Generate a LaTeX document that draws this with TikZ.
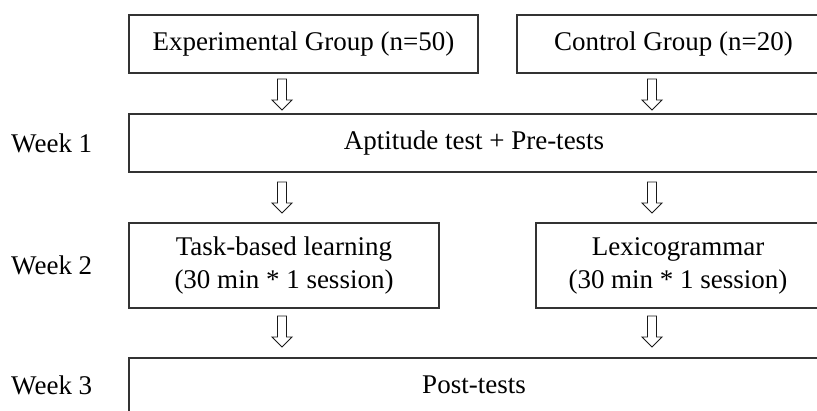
\documentclass[tikz,border=0pt]{standalone}
\usepackage{fontspec}
\setmainfont{Liberation Serif}
\begin{document}
\begin{tikzpicture}[x=1pt,y=-1pt,
  box/.style={draw=black!80, line width=1.4pt, inner sep=0pt, align=center,
    font=\fontsize{27}{33}\selectfont},
  weeklbl/.style={anchor=west, inner sep=0pt, font=\fontsize{27}{33}\selectfont},
  hollow/.pic={\draw[line width=0.9pt, line join=miter, draw=black!90]
    (-4.5,0) -- (4.5,0) -- (4.5,21) -- (10,21) -- (0,31) -- (-10,21) -- (-4.5,21) -- cycle;}]
\useasboundingbox (0,0) rectangle (817,410);
\clip (0,0) rectangle (817,410);
% boxes
\node[box, minimum width=349pt, minimum height=58pt] (exp) at (303.5,44) {Experimental Group (n=50)};
\node[box, minimum width=313pt, minimum height=58pt] (ctl) at (673.5,44) {Control Group (n=20)};
\node[box, minimum width=690pt, minimum height=58pt] (apt) at (474,143) {Aptitude test + Pre-tests};
\node[box, minimum width=310pt, minimum height=85pt] (task) at (284,265.5) {Task-based learning\\(30 min * 1 session)};
\node[box, minimum width=284pt, minimum height=85pt] (lex) at (678,265.5) {Lexicogrammar\\(30 min * 1 session)};
\node[box, minimum width=690pt, minimum height=54pt] (post) at (474,385) {Post-tests};
% week labels
\node[weeklbl] (w1) at (11,143) {Week 1};
\node[weeklbl] (w2) at (11,265.5) {Week 2};
\node[weeklbl] (w3) at (11,385) {Week 3};
% hollow arrows
\coordinate (a1) at (282,79);
\coordinate (a2) at (652,79);
\coordinate (a3) at (282,182);
\coordinate (a4) at (652,182);
\coordinate (a5) at (282,316);
\coordinate (a6) at (652,316);
\foreach \c in {a1,a2,a3,a4,a5,a6} { \pic at (\c) {hollow}; }
\end{tikzpicture}
\end{document}
